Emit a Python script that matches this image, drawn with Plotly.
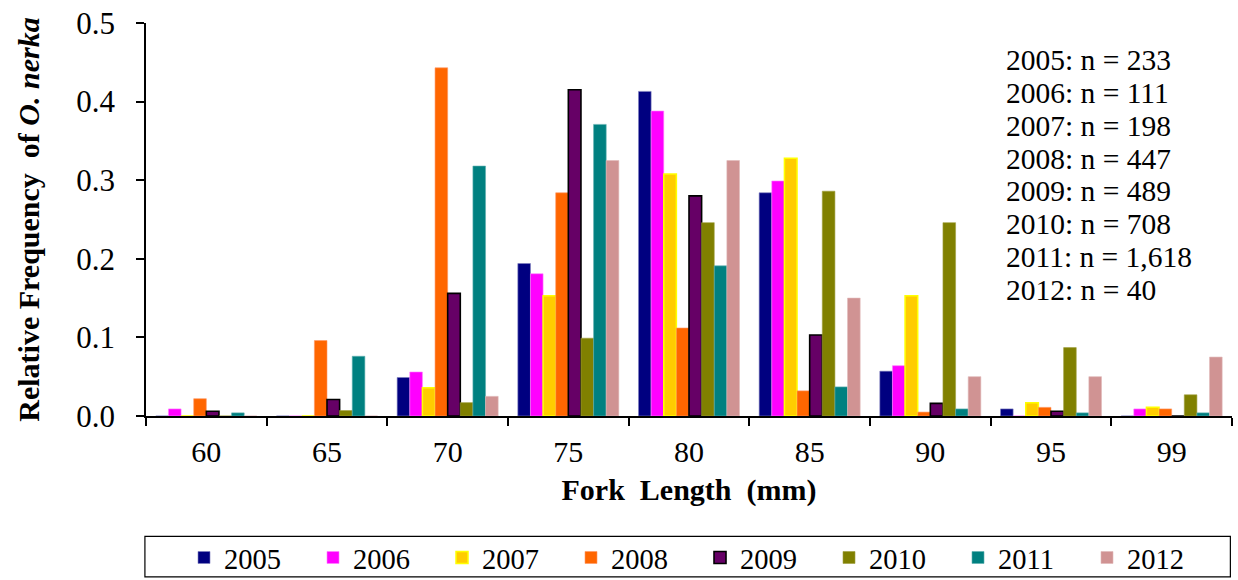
import plotly.graph_objects as go

# Fork length bins (mm)
lengths = ["60", "65", "70", "75", "80", "85", "90", "95", "99"]

# Relative frequency of O. nerka per length bin, by sampling year
freq_2005 = [0.0, 0.0, 0.049, 0.194, 0.413, 0.284, 0.057, 0.009, 0.0]
freq_2006 = [0.009, 0.0, 0.056, 0.181, 0.388, 0.299, 0.064, 0.0, 0.009]
freq_2007 = [0.0, 0.0, 0.036, 0.153, 0.308, 0.328, 0.153, 0.017, 0.011]
freq_2008 = [0.022, 0.096, 0.443, 0.284, 0.112, 0.032, 0.005, 0.011, 0.009]
freq_2009 = [0.006, 0.021, 0.156, 0.415, 0.280, 0.103, 0.016, 0.006, 0.0]
freq_2010 = [0.0, 0.007, 0.017, 0.099, 0.246, 0.286, 0.246, 0.087, 0.027]
freq_2011 = [0.004, 0.076, 0.318, 0.371, 0.191, 0.037, 0.009, 0.004, 0.004]
freq_2012 = [0.0, 0.0, 0.025, 0.325, 0.325, 0.150, 0.050, 0.050, 0.075]

years = ["2005", "2006", "2007", "2008", "2009", "2010", "2011", "2012"]
sample_sizes = ["233", "111", "198", "447", "489", "708", "1,618", "40"]

series = [freq_2005, freq_2006, freq_2007, freq_2008,
          freq_2009, freq_2010, freq_2011, freq_2012]
fills = ["#000080", "#FF00FF", "#FFCC00", "#FF6600",
         "#660066", "#808000", "#008080", "#D09393"]
edges = ["#8080C0", "#FF80FF", "#FFFF00", "#FF9966",
         "#000000", "#A0A040", "#60B0B0", "#E0B8B8"]
edge_w = [0.6, 0.6, 1.5, 0.6, 1.6, 0.6, 0.6, 0.6]

FONT = "Liberation Serif"

fig = go.Figure()
for yr, vals, fc, ec, ew in zip(years, series, fills, edges, edge_w):
    fig.add_trace(go.Bar(
        x=lengths, y=vals, name=yr,
        marker=dict(color=fc, line=dict(color=ec, width=ew)),
    ))

# sample size annotations
for i, (yr, n) in enumerate(zip(years, sample_sizes)):
    fig.add_annotation(
        x=0.790, xref="paper", xanchor="left",
        y=0.453 - i * 0.0418, yref="y", yanchor="middle",
        text=f"{yr}: n = {n}", showarrow=False,
        font=dict(family=FONT, size=29.5, color="black"),
    )

# frame around the legend
fig.add_shape(
    type="rect", xref="paper", yref="paper",
    x0=-0.001, x1=0.9985, y0=-0.3065, y1=-0.4095,
    line=dict(color="black", width=1.2), fillcolor="rgba(0,0,0,0)",
)

fig.update_layout(
    width=1238, height=580,
    margin=dict(l=146, r=6, t=18, b=164),
    paper_bgcolor="white", plot_bgcolor="white",
    barmode="group", bargap=0.163, bargroupgap=0,
    font=dict(family=FONT, size=28, color="black"),
    showlegend=True,
    legend=dict(
        orientation="h", x=0.035, xanchor="left",
        y=0.038, yref="container", yanchor="middle",
        entrywidth=84, entrywidthmode="pixels",
        itemwidth=30, tracegroupgap=0,
        font=dict(family=FONT, size=28.5, color="black"),
        bgcolor="rgba(0,0,0,0)", borderwidth=0,
    ),
    xaxis=dict(
        type="category",
        showline=True, linecolor="black", linewidth=1.5,
        ticks="outside", tickson="boundaries", ticklen=8,
        tickwidth=1.5, tickcolor="black",
        ticklabelstandoff=8,
        tickfont=dict(family=FONT, size=30),
        title=dict(text="<b>Fork  Length  (mm)</b>", standoff=12,
                   font=dict(family=FONT, size=30)),
        showgrid=False, zeroline=False,
    ),
    yaxis=dict(
        range=[0, 0.5], dtick=0.1, tickformat=".1f",
        showline=True, linecolor="black", linewidth=1.5,
        ticks="outside", ticklen=8, tickwidth=1.5, tickcolor="black",
        ticklabelstandoff=15,
        tickfont=dict(family=FONT, size=31),
        title=dict(text="<b>Relative Frequency  of <i>O. nerka</i></b>",
                   standoff=28, font=dict(family=FONT, size=30)),
        showgrid=False, zeroline=False,
    ),
)

fig.write_html("out.html")
